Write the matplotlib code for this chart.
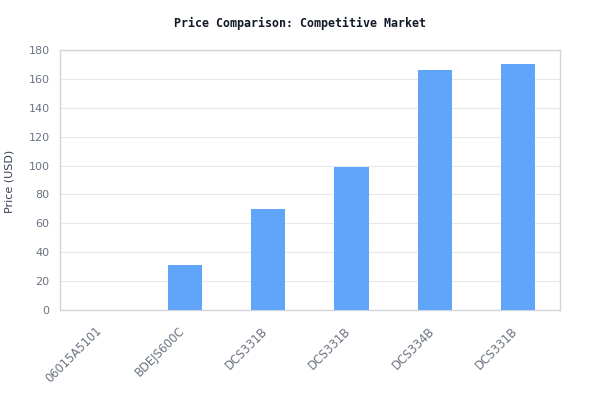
import matplotlib
matplotlib.use('Agg')
import matplotlib.pyplot as plt
import matplotlib.transforms as mtransforms
import numpy as np

# Данные
models = ['06015A5101', 'BDEJS600C', 'DCS331B', 'DCS331B', 'DCS334B', 'DCS331B']
prices = [0, 31, 70, 99, 166, 170]

text_grey = '#6B7280'
grid_grey = '#E5E7EB'

fig = plt.figure(figsize=(6, 4.2), dpi=100)
ax = fig.add_axes([0.1, 0.262, 0.833, 0.619])

x = np.arange(len(models))
ax.bar(x, prices, width=0.41, color='#60A5FA', zorder=3)

ax.set_xlim(-0.5, len(models) - 0.5)
ax.set_ylim(0, 180)
ax.set_yticks(np.arange(0, 181, 20))
ax.yaxis.grid(True, color=grid_grey, linewidth=0.8, zorder=0)

ax.set_xticks(x)
ax.set_xticklabels(models, rotation=45, ha='right', rotation_mode='anchor')
ax.tick_params(axis='both', length=0, labelsize=8, colors=text_grey)
ax.tick_params(axis='x', labelsize=8.3, pad=10.5)
ax.tick_params(axis='y', pad=7.5)

# сдвиг подписей оси X влево
shift = mtransforms.ScaledTranslation(-7 / 100, 0, fig.dpi_scale_trans)
for lbl in ax.get_xticklabels():
    lbl.set_transform(lbl.get_transform() + shift)

for s in ax.spines.values():
    s.set_color('#D1D5DB')
    s.set_linewidth(1)

fig.text(10 / 600, 1 - 181 / 420, 'Price (USD)', rotation=90, ha='center', va='center',
         fontsize=8, color='#374151')
fig.text(0.5, 1 - 23 / 420, 'Price Comparison: Competitive Market', ha='center', va='center',
         family='DejaVu Sans Mono', fontweight='bold', fontsize=8.4, color='#111827')

fig.savefig('out.png', dpi=100, facecolor='white')
